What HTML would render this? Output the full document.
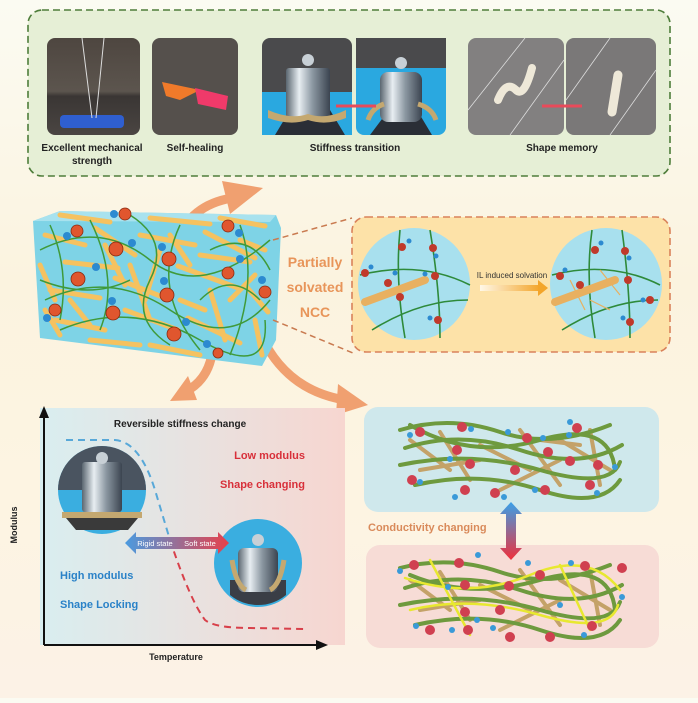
<!DOCTYPE html>
<html><head><meta charset="utf-8"><style>
html,body{margin:0;padding:0}
body{width:698px;height:698px;overflow:hidden;background:linear-gradient(180deg,#fbfbf2 0%,#fbf3df 40%,#fdf4e2 70%,#fcf2e6 100%);font-family:"Liberation Sans",sans-serif}
</style></head><body>
<svg width="698" height="698" viewBox="0 0 698 698" xmlns="http://www.w3.org/2000/svg" font-family="Liberation Sans, sans-serif">
<defs>
<linearGradient id="gr" x1="0" x2="1"><stop offset="0" stop-color="#d9eef0"/><stop offset="1" stop-color="#f7d6d0"/></linearGradient>
<linearGradient id="ar" x1="0" x2="1"><stop offset="0" stop-color="#4a9be0"/><stop offset="1" stop-color="#e8404a"/></linearGradient>
<linearGradient id="ya" x1="0" x2="1"><stop offset="0" stop-color="#fff8e8"/><stop offset="1" stop-color="#f3a52a"/></linearGradient>
<linearGradient id="va" x1="0" y1="0" x2="0" y2="1"><stop offset="0" stop-color="#3aa0e8"/><stop offset="1" stop-color="#f0303a"/></linearGradient>
<linearGradient id="metal" x1="0" x2="1"><stop offset="0" stop-color="#5a6670"/><stop offset=".3" stop-color="#e8eef2"/><stop offset=".6" stop-color="#8c98a2"/><stop offset="1" stop-color="#3b4450"/></linearGradient>
<linearGradient id="p1" x1="0" y1="0" x2="0" y2="1"><stop offset="0" stop-color="#4e4640"/><stop offset=".55" stop-color="#5c554e"/><stop offset=".6" stop-color="#3a3634"/><stop offset="1" stop-color="#4a4542"/></linearGradient>
</defs>
<!-- top panel -->
<rect x="28" y="10" width="642" height="166" rx="14" fill="#e6efd6" stroke="#4e7d3a" stroke-width="1.6" stroke-dasharray="7,4"/>
<rect x="47" y="38" width="93" height="97" rx="8" fill="url(#p1)"/>
<rect x="60" y="115" width="64" height="13" rx="4" fill="#2f5fd0"/>
<line x1="82" y1="38" x2="92" y2="118" stroke="#ddd" stroke-width="1"/><line x1="104" y1="38" x2="96" y2="118" stroke="#ddd"/>
<rect x="152" y="38" width="86" height="97" rx="8" fill="#55504c"/>
<path d="M162 82 L200 90 L180 100 L166 96Z" fill="#f07a2a"/><path d="M195 88 L228 96 L226 110 L198 104Z" fill="#f03a6a"/>
<rect x="262" y="38" width="90" height="97" rx="8" fill="#4a4a4c"/>
<rect x="262" y="92" width="90" height="43" fill="#2aa8e0"/>
<path d="M275 135 L290 110 L330 110 L345 135Z" fill="#2a2e36"/>
<rect x="286" y="68" width="44" height="52" rx="3" fill="url(#metal)"/><circle cx="308" cy="60" r="6" fill="#c8d0d6"/>
<path d="M268 110 Q290 120 308 114 Q326 120 346 110 L346 118 Q326 126 308 120 Q290 126 268 118Z" fill="#c4a870"/>
<rect x="356" y="38" width="90" height="97" rx="8" fill="#2aa8e0"/>
<rect x="356" y="38" width="90" height="30" fill="#4a4a4c"/>
<path d="M370 135 L385 115 L420 115 L432 135Z" fill="#2a2e36"/>
<rect x="380" y="72" width="42" height="50" rx="8" fill="url(#metal)"/><circle cx="401" cy="63" r="6" fill="#c8d0d6"/>
<path d="M368 120 Q372 108 384 104" stroke="#c4a870" stroke-width="5" fill="none"/><path d="M436 120 Q432 108 418 104" stroke="#c4a870" stroke-width="5" fill="none"/>
<line x1="336" y1="106" x2="376" y2="106" stroke="#e84a5a" stroke-width="3"/>
<rect x="468" y="38" width="96" height="97" rx="8" fill="#828080"/>
<line x1="468" y1="110" x2="525" y2="38" stroke="#ddd" stroke-width=".8"/><line x1="510" y1="135" x2="564" y2="60" stroke="#ddd" stroke-width=".8"/>
<path d="M498 100 q8 -20 18 -10 q8 8 16 -22" stroke="#eee8d8" stroke-width="8" fill="none" stroke-linecap="round"/>
<rect x="566" y="38" width="90" height="97" rx="8" fill="#7a7878"/>
<line x1="566" y1="100" x2="610" y2="38" stroke="#ddd" stroke-width=".8"/><line x1="610" y1="135" x2="656" y2="70" stroke="#ddd" stroke-width=".8"/>
<line x1="612" y1="112" x2="618" y2="75" stroke="#eee8d8" stroke-width="9" stroke-linecap="round"/>
<line x1="542" y1="106" x2="582" y2="106" stroke="#e84a5a" stroke-width="3"/>
<g font-size="10" font-weight="bold" fill="#222" text-anchor="middle">
<text x="92" y="151">Excellent mechanical</text><text x="92" y="164">strength</text>
<text x="195" y="151">Self-healing</text>
<text x="355" y="151">Stiffness transition</text>
<text x="562" y="151">Shape memory</text></g>
<!-- orange arrows -->
<g fill="none" stroke="#f0a070" stroke-width="9">
<path d="M177 242 Q190 205 232 198"/>
<path d="M213 343 Q212 378 185 392"/>
<path d="M260 333 Q285 390 345 400"/></g>
<g fill="#f0a070"><path d="M222 181 L263 188 L230 214Z"/><path d="M170 401 L188 376 L197 400Z"/><path d="M338 384 L368 405 L336 415Z"/></g>
<!-- block -->
<polygon points="33,221 60,211 276,215 281,228 276,340 262,366 40,338" fill="#7ed3e6"/>
<polygon points="33,221 60,211 276,215 270,222" fill="#a8e2ee"/>
<g stroke="#f5c260" stroke-width="5" stroke-linecap="round">
<line x1="45" y1="235" x2="85" y2="245"/><line x1="95" y1="228" x2="135" y2="255"/><line x1="140" y1="235" x2="195" y2="245"/><line x1="205" y1="232" x2="255" y2="258"/>
<line x1="50" y1="290" x2="100" y2="298"/><line x1="115" y1="278" x2="165" y2="298"/><line x1="178" y1="266" x2="238" y2="288"/><line x1="55" y1="320" x2="105" y2="330"/>
<line x1="125" y1="310" x2="178" y2="330"/><line x1="188" y1="318" x2="240" y2="343"/><line x1="245" y1="285" x2="268" y2="312"/><line x1="65" y1="262" x2="118" y2="268"/>
<line x1="60" y1="215" x2="110" y2="222"/><line x1="150" y1="218" x2="210" y2="224"/><line x1="220" y1="218" x2="265" y2="226"/><line x1="40" y1="265" x2="55" y2="300"/>
<line x1="130" y1="265" x2="150" y2="320"/><line x1="160" y1="250" x2="145" y2="300"/><line x1="200" y1="255" x2="250" y2="262"/><line x1="210" y1="290" x2="225" y2="340"/>
<line x1="90" y1="340" x2="140" y2="345"/><line x1="150" y1="345" x2="200" y2="355"/><line x1="240" y1="240" x2="265" y2="250"/><line x1="255" y1="320" x2="262" y2="355"/>
<line x1="70" y1="300" x2="90" y2="325"/><line x1="105" y1="245" x2="125" y2="285"/><line x1="180" y1="300" x2="205" y2="310"/><line x1="230" y1="300" x2="255" y2="275"/>
<line x1="45" y1="310" x2="60" y2="335"/><line x1="170" y1="235" x2="190" y2="265"/></g>
<g stroke="#3f9a3a" stroke-width="1.5" fill="none">
<path d="M40 250 Q100 220 150 260 T270 240"/><path d="M45 300 Q110 270 170 310 T270 300"/><path d="M60 330 Q130 300 200 340 T265 320"/><path d="M90 220 Q120 280 100 330"/><path d="M180 225 Q150 290 200 350"/><path d="M240 225 Q260 280 230 355"/>
<path d="M50 225 Q70 270 60 320"/><path d="M130 215 Q170 240 150 280 Q130 320 170 345"/><path d="M210 250 Q250 230 270 270"/><path d="M40 280 Q90 300 130 280"/><path d="M200 300 Q230 270 260 300"/></g>
<g fill="#e0562e" stroke="#8a2a10" stroke-width=".8"><circle cx="125" cy="214" r="6"/><circle cx="77" cy="231" r="6"/><circle cx="116" cy="249" r="7"/><circle cx="169" cy="259" r="7"/><circle cx="78" cy="279" r="7"/><circle cx="167" cy="295" r="7"/><circle cx="55" cy="310" r="6"/><circle cx="113" cy="313" r="7"/><circle cx="174" cy="334" r="7"/><circle cx="228" cy="226" r="6"/><circle cx="228" cy="273" r="6"/><circle cx="265" cy="292" r="6"/><circle cx="218" cy="353" r="5"/></g>
<g fill="#2c8ad0"><circle cx="114" cy="214" r="4"/><circle cx="67" cy="236" r="4"/><circle cx="132" cy="243" r="4"/><circle cx="162" cy="247" r="4"/><circle cx="96" cy="267" r="4"/><circle cx="164" cy="281" r="4"/><circle cx="112" cy="301" r="4"/><circle cx="47" cy="318" r="4"/><circle cx="186" cy="322" r="4"/><circle cx="239" cy="233" r="4"/><circle cx="240" cy="259" r="4"/><circle cx="262" cy="280" r="4"/><circle cx="207" cy="344" r="4"/></g>
<line x1="273" y1="240" x2="352" y2="218" stroke="#c97a50" stroke-width="1.5" stroke-dasharray="6,4"/>
<line x1="273" y1="320" x2="353" y2="353" stroke="#c97a50" stroke-width="1.5" stroke-dasharray="6,4"/>
<g font-size="14" font-weight="bold" fill="#e8955a" text-anchor="middle"><text x="315" y="267">Partially</text><text x="315" y="292">solvated</text><text x="315" y="317">NCC</text></g>
<rect x="352" y="217" width="318" height="135" rx="14" fill="#fde2a8" stroke="#d9825a" stroke-width="1.6" stroke-dasharray="7,4"/>
<circle cx="414" cy="284" r="56" fill="#a8e0ee"/><circle cx="606" cy="284" r="56" fill="#a8e0ee"/>
<g stroke="#2e8a3a" stroke-width="1.6" fill="none"><path d="M360 275 Q420 260 470 285"/><path d="M372 330 Q420 300 468 300"/><path d="M400 230 Q395 280 405 338"/><path d="M430 230 Q440 290 440 338"/>
<path d="M552 275 Q610 260 660 285"/><path d="M562 330 Q610 300 658 300"/><path d="M592 230 Q585 280 595 338"/><path d="M622 230 Q630 290 630 338"/></g>
<line x1="365" y1="302" x2="425" y2="280" stroke="#e8b060" stroke-width="8" stroke-linecap="round"/>
<line x1="555" y1="302" x2="615" y2="280" stroke="#e8b060" stroke-width="8" stroke-linecap="round"/>
<g stroke="#e8b060" stroke-width="1.2"><line x1="570" y1="280" x2="585" y2="310"/><line x1="600" y1="270" x2="620" y2="295"/><line x1="590" y1="300" x2="610" y2="310"/></g>
<g fill="#c0392b"><circle cx="402" cy="247" r="4"/><circle cx="433" cy="248" r="4"/><circle cx="365" cy="273" r="4"/><circle cx="388" cy="283" r="4"/><circle cx="400" cy="297" r="4"/><circle cx="435" cy="276" r="4"/><circle cx="438" cy="320" r="4"/><circle cx="595" cy="250" r="4"/><circle cx="625" cy="251" r="4"/><circle cx="560" cy="276" r="4"/><circle cx="580" cy="285" r="4"/><circle cx="628" cy="280" r="4"/><circle cx="650" cy="300" r="4"/><circle cx="630" cy="322" r="4"/></g>
<g fill="#2c8ad0"><circle cx="409" cy="241" r="2.5"/><circle cx="436" cy="256" r="2.5"/><circle cx="371" cy="267" r="2.5"/><circle cx="425" cy="274" r="2.5"/><circle cx="395" cy="273" r="2.5"/><circle cx="430" cy="318" r="2.5"/><circle cx="601" cy="243" r="2.5"/><circle cx="629" cy="258" r="2.5"/><circle cx="565" cy="270" r="2.5"/><circle cx="643" cy="300" r="2.5"/><circle cx="623" cy="318" r="2.5"/></g>
<text x="512" y="278" font-size="8" fill="#333" text-anchor="middle">IL induced solvation</text>
<rect x="480" y="285" width="60" height="6" fill="url(#ya)"/><path d="M538 280 L548 288 L538 296Z" fill="#f3a52a"/>
<!-- graph -->
<rect x="40" y="408" width="305" height="237" fill="url(#gr)"/>
<line x1="44" y1="645" x2="44" y2="415" stroke="#111" stroke-width="2"/><path d="M39 418 L44 406 L49 418Z" fill="#111"/>
<line x1="44" y1="645" x2="318" y2="645" stroke="#111" stroke-width="2"/><path d="M316 640 L328 645 L316 650Z" fill="#111"/>
<text x="180" y="427" font-size="10" font-weight="bold" fill="#222" text-anchor="middle">Reversible stiffness change</text>
<path d="M66 440 L115 440 Q140 442 155 490 L170 540" fill="none" stroke="#58a8d8" stroke-width="2" stroke-dasharray="7,5"/>
<path d="M170 540 Q190 600 205 620 Q215 628 250 628 L306 629" fill="none" stroke="#d8404a" stroke-width="2" stroke-dasharray="7,5"/>
<text x="17" y="525" font-size="9" font-weight="bold" fill="#222" text-anchor="middle" transform="rotate(-90 17 525)">Modulus</text>
<text x="176" y="660" font-size="9" font-weight="bold" fill="#222" text-anchor="middle">Temperature</text>
<g font-size="11" font-weight="bold"><text x="305" y="459" fill="#d8303a" text-anchor="end">Low modulus</text><text x="305" y="488" fill="#d8303a" text-anchor="end">Shape changing</text>
<text x="60" y="579" fill="#2a82c8">High modulus</text><text x="60" y="608" fill="#2a82c8">Shape Locking</text></g>
<circle cx="102" cy="490" r="44" fill="#3aaee0"/><path d="M58 490 A44 44 0 0 1 146 490Z" fill="#4a5460"/><rect x="82" y="462" width="40" height="50" rx="3" fill="url(#metal)"/><circle cx="102" cy="458" r="6" fill="#c8d0d6"/><rect x="62" y="512" width="80" height="6" fill="#c4a870"/><path d="M66 518 L138 518 L128 530 L76 530Z" fill="#3a3a3a"/>
<circle cx="258" cy="563" r="44" fill="#3aaee0"/><path d="M230 595 A44 44 0 0 0 286 595 L286 580 L230 580Z" fill="#3a3e46"/><rect x="238" y="548" width="40" height="44" rx="6" fill="url(#metal)"/><circle cx="258" cy="540" r="6" fill="#c8d0d6"/><path d="M232 560 Q236 585 246 590" stroke="#c4a870" stroke-width="5" fill="none"/><path d="M284 560 Q280 585 270 590" stroke="#c4a870" stroke-width="5" fill="none"/>
<path d="M125 543 L136 532 L136 537 L218 537 L218 532 L229 543 L218 554 L218 549 L136 549 L136 554Z" fill="url(#ar)"/>
<text x="155" y="546" font-size="7.5" fill="#fff" text-anchor="middle">Rigid state</text><text x="200" y="546" font-size="7.5" fill="#fff" text-anchor="middle">Soft state</text>
<!-- right bottom -->
<rect x="364" y="407" width="295" height="105" rx="14" fill="#cfe8ec"/>
<rect x="366" y="545" width="293" height="103" rx="14" fill="#f7dcd6"/>
<g stroke-linecap="round" fill="none" stroke-width="4">
<g stroke="#c4a268"><path d="M410 440 L450 470"/><path d="M440 432 L470 480"/><path d="M480 445 L530 470"/><path d="M520 430 L560 485"/><path d="M560 440 L610 470"/><path d="M590 430 L600 485"/><path d="M420 470 L480 460"/><path d="M500 490 L560 460"/><path d="M540 440 L580 445"/>
<path d="M410 580 L450 610"/><path d="M440 572 L470 620"/><path d="M480 585 L530 610"/><path d="M520 570 L560 625"/><path d="M560 580 L610 610"/><path d="M590 570 L600 625"/><path d="M420 610 L480 600"/><path d="M500 630 L560 600"/></g>
<g stroke="#6e9a3e"><path d="M400 430 Q450 415 500 432 T610 425"/><path d="M405 448 Q460 430 520 450 T622 445"/><path d="M400 465 Q470 450 540 470 T620 462"/><path d="M415 485 Q480 470 540 490 T620 480"/><path d="M410 425 Q470 460 540 440 T615 470"/>
<path d="M400 568 Q450 555 500 572 T610 565"/><path d="M405 588 Q460 570 520 590 T622 585"/><path d="M400 605 Q470 590 540 610 T620 602"/><path d="M415 625 Q480 610 540 630 T620 620"/><path d="M410 575 Q470 600 540 580 T615 610"/></g>
<g stroke="#e8e830" stroke-width="2.5"><path d="M405 578 Q470 600 530 575 T620 590"/><path d="M410 610 Q470 595 540 615 T618 605"/><path d="M430 560 L470 635"/><path d="M560 565 L590 630"/></g></g>
<g fill="#d04050"><circle cx="420" cy="432" r="5"/><circle cx="462" cy="427" r="5"/><circle cx="457" cy="450" r="5"/><circle cx="527" cy="438" r="5"/><circle cx="548" cy="452" r="5"/><circle cx="570" cy="461" r="5"/><circle cx="598" cy="465" r="5"/><circle cx="470" cy="464" r="5"/><circle cx="515" cy="470" r="5"/><circle cx="412" cy="480" r="5"/><circle cx="465" cy="490" r="5"/><circle cx="495" cy="493" r="5"/><circle cx="545" cy="490" r="5"/><circle cx="590" cy="485" r="5"/><circle cx="577" cy="428" r="5"/>
<circle cx="414" cy="565" r="5"/><circle cx="459" cy="563" r="5"/><circle cx="465" cy="585" r="5"/><circle cx="509" cy="586" r="5"/><circle cx="540" cy="575" r="5"/><circle cx="585" cy="566" r="5"/><circle cx="622" cy="568" r="5"/><circle cx="465" cy="612" r="5"/><circle cx="500" cy="610" r="5"/><circle cx="430" cy="630" r="5"/><circle cx="468" cy="630" r="5"/><circle cx="510" cy="637" r="5"/><circle cx="550" cy="637" r="5"/><circle cx="592" cy="626" r="5"/></g>
<g fill="#3a9ad8"><circle cx="410" cy="435" r="3"/><circle cx="471" cy="429" r="3"/><circle cx="450" cy="459" r="3"/><circle cx="508" cy="432" r="3"/><circle cx="543" cy="438" r="3"/><circle cx="569" cy="435" r="3"/><circle cx="615" cy="467" r="3"/><circle cx="420" cy="482" r="3"/><circle cx="455" cy="497" r="3"/><circle cx="504" cy="497" r="3"/><circle cx="535" cy="490" r="3"/><circle cx="597" cy="493" r="3"/><circle cx="570" cy="422" r="3"/>
<circle cx="400" cy="571" r="3"/><circle cx="478" cy="555" r="3"/><circle cx="528" cy="563" r="3"/><circle cx="571" cy="563" r="3"/><circle cx="622" cy="597" r="3"/><circle cx="448" cy="587" r="3"/><circle cx="477" cy="620" r="3"/><circle cx="416" cy="626" r="3"/><circle cx="452" cy="630" r="3"/><circle cx="493" cy="628" r="3"/><circle cx="584" cy="635" r="3"/><circle cx="560" cy="605" r="3"/></g>
<path d="M511 502 L522 514 L516 514 L516 548 L522 548 L511 560 L500 548 L506 548 L506 514 L500 514Z" fill="url(#va)"/>
<text x="368" y="531" font-size="11" font-weight="bold" fill="#d98a5a">Conductivity changing</text>
</svg>
</body></html>
